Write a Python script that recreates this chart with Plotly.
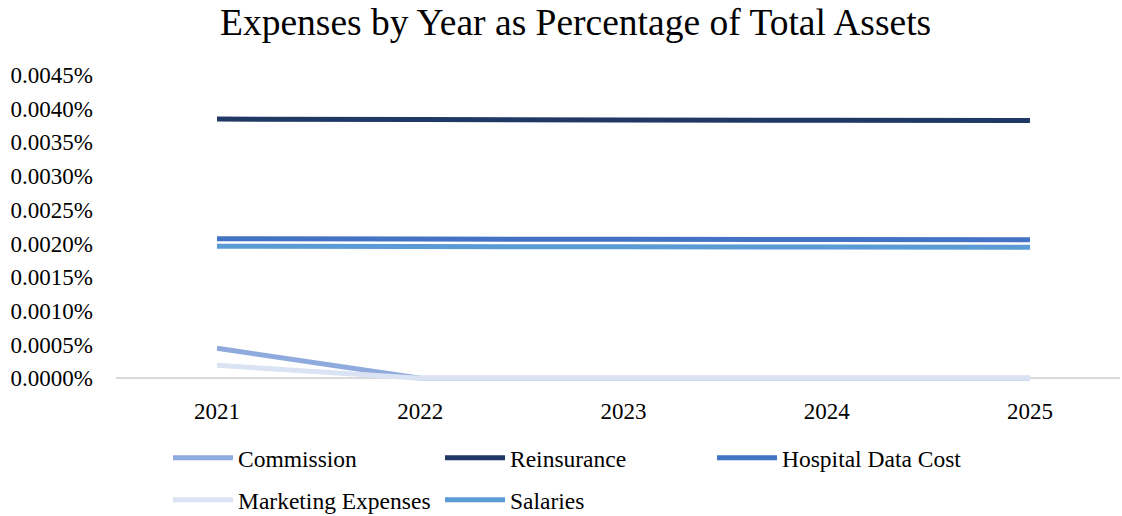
import plotly.graph_objects as go

# Categories and series (share of total assets, as fractions)
years = ["2021", "2022", "2023", "2024", "2025"]
commission = [0.00000445, 0.0, 0.0, 0.0, 0.0]
reinsurance = [0.00003846, 0.00003838, 0.00003832, 0.00003827, 0.00003824]
hospital_data_cost = [0.00002072, 0.00002066, 0.00002062, 0.00002059, 0.00002057]
marketing_expenses = [0.00000193, 0.0, 0.0, 0.0, 0.0]
salaries = [0.00001960, 0.00001955, 0.00001950, 0.00001947, 0.00001945]

y_ticks = [i * 0.000005 for i in range(10)]

FONT = "Liberation Serif, Times New Roman, serif"

series = [
    ("Commission", commission, "#8faadc", "legend"),
    ("Reinsurance", reinsurance, "#203864", "legend"),
    ("Hospital Data Cost", hospital_data_cost, "#4472c4", "legend"),
    ("Marketing Expenses", marketing_expenses, "#dae3f3", "legend2"),
    ("Salaries", salaries, "#5b9bd5", "legend2"),
]

fig = go.Figure()
for name, values, color, leg in series:
    fig.add_trace(go.Scatter(
        x=years, y=values, name=name, mode="lines",
        line=dict(color=color, width=5, simplify=False),
        legend=leg,
        hovertemplate="%{x}: %{y:.4%}<extra>" + name + "</extra>",
    ))

legend_common = dict(
    orientation="h",
    xref="container", yref="container",
    xanchor="left", yanchor="middle",
    font=dict(family=FONT, size=23.5, color="#000000"),
    entrywidth=197, entrywidthmode="pixels",
    itemwidth=60,
    bgcolor="rgba(0,0,0,0)", borderwidth=0,
    itemclick=False, itemdoubleclick=False,
)

fig.update_layout(
    width=1122, height=516,
    paper_bgcolor="#ffffff", plot_bgcolor="#ffffff",
    font=dict(family=FONT, size=23, color="#000000"),
    margin=dict(l=116, r=2, t=75, b=135, autoexpand=False),
    title=dict(
        text="Expenses by Year as Percentage of Total Assets",
        font=dict(family=FONT, size=37.5, color="#000000"),
        x=0.513, xanchor="center", y=1 - 22 / 516, yanchor="middle",
    ),
    xaxis=dict(
        type="category", range=[-0.497, 4.443],
        showgrid=False, showline=False, zeroline=False,
        ticks="", ticklabelstandoff=14,
        tickfont=dict(family=FONT, size=23, color="#000000"),
    ),
    yaxis=dict(
        range=[-0.0000004, 0.000045],
        tickvals=y_ticks, tickformat=".4%",
        showgrid=False, showline=False,
        zeroline=True, zerolinecolor="#d9d9d9", zerolinewidth=1.5,
        ticks="", ticklabelstandoff=22,
        tickfont=dict(family=FONT, size=23, color="#000000"),
    ),
    legend=dict(x=168 / 1122, y=1 - 458 / 516, **legend_common),
    legend2=dict(x=168 / 1122, y=1 - 500 / 516, **legend_common),
    showlegend=True,
)

fig.write_html("out.html")
